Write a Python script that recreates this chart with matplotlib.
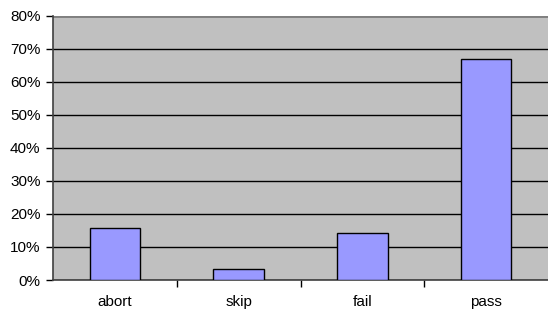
import matplotlib.pyplot as plt
from matplotlib.ticker import PercentFormatter

plt.rcParams["font.family"] = ["Liberation Sans", "DejaVu Sans"]

categories = ["abort", "skip", "fail", "pass"]
shares = [15.6, 3.4, 14.1, 66.9]

fig = plt.figure(figsize=(5.48, 3.12), dpi=100)
ax = fig.add_axes([53 / 548, 1 - 280 / 312, 1 - 53 / 548, (280 - 15.5) / 312])
ax.set_facecolor("#C0C0C0")

x = range(len(categories))
ax.bar(x, shares, width=0.41, color="#9999FF", edgecolor="black", linewidth=1, zorder=3)

ax.set_xlim(-0.5, len(categories) - 0.5)
ax.set_ylim(0, 80)
ax.set_yticks(range(0, 81, 10))
ax.yaxis.set_major_formatter(PercentFormatter(decimals=0))
ax.yaxis.grid(True, color="black", linewidth=1, zorder=1)

ax.set_xticks(list(x))
ax.set_xticklabels(categories)
ax.set_xticks([i + 0.5 for i in range(len(categories) - 1)], minor=True)
ax.tick_params(axis="x", which="major", length=0, pad=11, labelsize=11)
ax.tick_params(axis="x", which="minor", length=5, width=1, direction="out", color="black")
ax.tick_params(axis="y", length=5, width=1, direction="out", labelsize=11, pad=4)

for side in ["top", "right"]:
    ax.spines[side].set_visible(False)
ax.spines["left"].set_color("#404040")
ax.spines["bottom"].set_color("#404040")
ax.spines["left"].set_linewidth(1.2)
ax.spines["bottom"].set_linewidth(1.2)
ax.axhline(80, color="#808080", linewidth=2, zorder=2)

fig.savefig("out.png", dpi=100)
